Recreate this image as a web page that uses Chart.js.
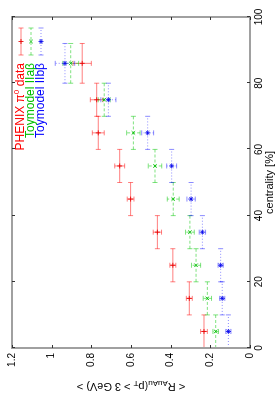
<!DOCTYPE html>
<html>
<head>
<meta charset="utf-8">
<script src="https://cdn.jsdelivr.net/npm/chart.js@4.4.1/dist/chart.umd.min.js"></script>
<style>
  html, body { margin: 0; padding: 0; background: #fff; }
  #wrap { position: relative; width: 280px; height: 400px; overflow: hidden; }
  /* the plot is drawn landscape and turned a quarter turn counter-clockwise */
  #wrap canvas { position: absolute; left: -60px; top: 60px; transform: rotate(-90deg); }
</style>
</head>
<body>
<div id="wrap"><canvas id="raa" width="400" height="280"></canvas></div>
<script>
// centrality bins (%) and their half widths
const CENTRALITY = [5, 15, 25, 35, 45, 55, 65, 75, 86];
const CENT_ERR   = [5, 5, 5, 5, 5, 5, 5, 5, 6];

// PHENIX pi0 data
const PHENIX     = [0.232, 0.306, 0.389, 0.467, 0.602, 0.657, 0.765, 0.773, 0.846];
const PHENIX_ERR = [0.017, 0.015, 0.015, 0.021, 0.017, 0.025, 0.030, 0.032, 0.046];

// Toymodel IIa beta
const IIA     = [0.173, 0.215, 0.272, 0.303, 0.387, 0.479, 0.588, 0.735, 0.904];
const IIA_ERR = [0.014, 0.021, 0.023, 0.022, 0.030, 0.034, 0.034, 0.030, 0.040];

// Toymodel IIb beta
const IIB     = [0.109, 0.140, 0.148, 0.240, 0.297, 0.395, 0.516, 0.714, 0.933];
const IIB_ERR = [0.013, 0.013, 0.013, 0.016, 0.021, 0.025, 0.030, 0.038, 0.049];

const X_TICKS = [0, 20, 40, 60, 80, 100];
const Y_TICKS = [0, 0.2, 0.4, 0.6, 0.8, 1, 1.2];

const pts = (vals, errs) => CENTRALITY.map((c, i) => ({ x: c, y: vals[i], xe: CENT_ERR[i], ye: errs[i] }));

const datasets = [
  { label: 'PHENIX', data: pts(PHENIX, PHENIX_ERR), pointStyle: 'cross',
    borderColor: 'rgba(230,0,0,0.85)', barColor: 'rgba(255,0,0,0.5)', barDash: [],
    text: [['PHENIX \u03c0', 0], ['0', 1], [' data', 0]], textColor: '#ff0000' },
  { label: 'IIa', data: pts(IIA, IIA_ERR), pointStyle: 'crossRot',
    borderColor: 'rgba(0,190,0,0.85)', barColor: 'rgba(0,200,0,0.5)', barDash: [3, 2],
    text: [['Toymodel IIa\u03b2', 0]], textColor: '#00c000' },
  { label: 'IIb', data: pts(IIB, IIB_ERR), pointStyle: 'star',
    borderColor: 'rgba(0,0,235,0.8)', barColor: 'rgba(0,0,255,0.45)', barDash: [1, 2],
    text: [['Toymodel IIb\u03b2', 0]], textColor: '#0000ff' }
];
datasets.forEach(d => { d.pointRadius = 2.5; d.pointBorderWidth = 1; d.showLine = false; });

const FONT = '"Liberation Sans", Arial, sans-serif';

// xy error bars with caps
const errorBars = {
  id: 'errorBars',
  beforeDatasetsDraw(chart) {
    const { ctx, scales: { x, y } } = chart;
    const cap = 2.5;
    chart.data.datasets.forEach(ds => {
      ctx.save();
      ctx.strokeStyle = ds.barColor;
      ctx.lineWidth = 1;
      ds.data.forEach(p => {
        const px = x.getPixelForValue(p.x), py = y.getPixelForValue(p.y);
        const x0 = x.getPixelForValue(p.x - p.xe), x1 = x.getPixelForValue(p.x + p.xe);
        const y0 = y.getPixelForValue(p.y - p.ye), y1 = y.getPixelForValue(p.y + p.ye);
        ctx.setLineDash(ds.barDash);
        ctx.beginPath();
        ctx.moveTo(x0, py); ctx.lineTo(x1, py);
        ctx.moveTo(px, y0); ctx.lineTo(px, y1);
        ctx.stroke();
        ctx.setLineDash([]);
        ctx.beginPath();
        ctx.moveTo(x0, py - cap); ctx.lineTo(x0, py + cap);
        ctx.moveTo(x1, py - cap); ctx.lineTo(x1, py + cap);
        ctx.moveTo(px - cap, y0); ctx.lineTo(px + cap, y0);
        ctx.moveTo(px - cap, y1); ctx.lineTo(px + cap, y1);
        ctx.stroke();
      });
      ctx.restore();
    });
  }
};

// gnuplot style frame with inward ticks, legend and the y title with subscripts
const decor = {
  id: 'decor',
  afterDraw(chart) {
    const { ctx, chartArea: a, scales: { x, y } } = chart;
    ctx.save();
    ctx.strokeStyle = '#a0a0a0';
    ctx.lineWidth = 2;
    ctx.strokeRect(a.left, a.top, a.right - a.left, a.bottom - a.top);
    ctx.strokeStyle = '#333';
    ctx.lineWidth = 1;
    ctx.beginPath();
    X_TICKS.forEach(v => {
      const px = Math.round(x.getPixelForValue(v)) + 0.5;
      ctx.moveTo(px, a.bottom); ctx.lineTo(px, a.bottom - 3);
      ctx.moveTo(px, a.top); ctx.lineTo(px, a.top + 3);
    });
    Y_TICKS.forEach(v => {
      const py = Math.round(y.getPixelForValue(v)) + 0.5;
      ctx.moveTo(a.left, py); ctx.lineTo(a.left + 3, py);
      ctx.moveTo(a.right, py); ctx.lineTo(a.right - 3, py);
    });
    ctx.stroke();

    // legend
    chart.data.datasets.forEach((ds, i) => {
      const ry = a.top + 9 + i * 10;
      const s0 = a.right - 38, s1 = a.right - 11;
      ctx.strokeStyle = ds.barColor;
      ctx.setLineDash(ds.barDash);
      ctx.beginPath(); ctx.moveTo(s0, ry); ctx.lineTo(s1, ry); ctx.stroke();
      ctx.setLineDash([]);
      ctx.beginPath();
      ctx.moveTo(s0, ry - 2.5); ctx.lineTo(s0, ry + 2.5);
      ctx.moveTo(s1, ry - 2.5); ctx.lineTo(s1, ry + 2.5);
      ctx.stroke();
      ctx.strokeStyle = ds.borderColor;
      Chart.helpers.drawPoint(ctx, { pointStyle: ds.pointStyle, radius: 2.5, borderWidth: 1, rotation: 0 }, (s0 + s1) / 2, ry);

      ctx.fillStyle = ds.textColor;
      ctx.textBaseline = 'middle';
      ctx.textAlign = 'left';
      const fonts = ['12px ' + FONT, '8px ' + FONT];
      let w = 0;
      ds.text.forEach(([t, k]) => { ctx.font = fonts[k]; w += ctx.measureText(t).width; });
      let tx = a.right - 46 - w;
      ds.text.forEach(([t, k]) => {
        ctx.font = fonts[k];
        ctx.fillText(t, tx, ry - (k ? 4 : 0));
        tx += ctx.measureText(t).width;
      });
    });

    // y axis title: < R_AuAu(p_T > 3 GeV) >
    const parts = [['< R', 0], ['AuAu', 1], ['(p', 0], ['T', 1], [' > 3 GeV) >', 0]];
    const f = ['11px ' + FONT, '8px ' + FONT];
    ctx.translate(14, (a.top + a.bottom) / 2);
    ctx.rotate(-Math.PI / 2);
    ctx.fillStyle = '#000';
    ctx.textBaseline = 'middle';
    ctx.textAlign = 'left';
    let tw = 0;
    parts.forEach(([t, k]) => { ctx.font = f[k]; tw += ctx.measureText(t).width; });
    let tx = -tw / 2;
    parts.forEach(([t, k]) => {
      ctx.font = f[k];
      ctx.fillText(t, tx, k ? 3 : 0);
      tx += ctx.measureText(t).width;
    });
    ctx.restore();
  }
};

new Chart(document.getElementById('raa'), {
  type: 'scatter',
  data: { datasets },
  plugins: [errorBars, decor],
  options: {
    responsive: false,
    animation: false,
    layout: { padding: { top: 12, right: 17, left: 0, bottom: 0 } },
    plugins: { legend: { display: false }, tooltip: { enabled: false } },
    scales: {
      x: {
        type: 'linear', min: 0, max: 100,
        afterBuildTicks: s => { s.ticks = X_TICKS.map(v => ({ value: v })); },
        afterFit: s => { s.height = 30; },
        grid: { display: false, drawTicks: false },
        border: { display: false },
        ticks: { padding: 3, color: '#000', maxRotation: 0, font: { size: 10, family: FONT } },
        title: { display: true, text: 'centrality [%]', color: '#000', padding: { top: 0, bottom: 3 },
                 font: { size: 11, family: FONT } }
      },
      y: {
        type: 'linear', min: 0, max: 1.2,
        afterBuildTicks: s => { s.ticks = Y_TICKS.map(v => ({ value: v })); },
        afterFit: s => { s.width = 52; },
        grid: { display: false, drawTicks: false },
        border: { display: false },
        ticks: { padding: 5, color: '#000', font: { size: 10, family: FONT },
                 callback: v => String(v) }
      }
    }
  }
});
</script>
</body>
</html>
